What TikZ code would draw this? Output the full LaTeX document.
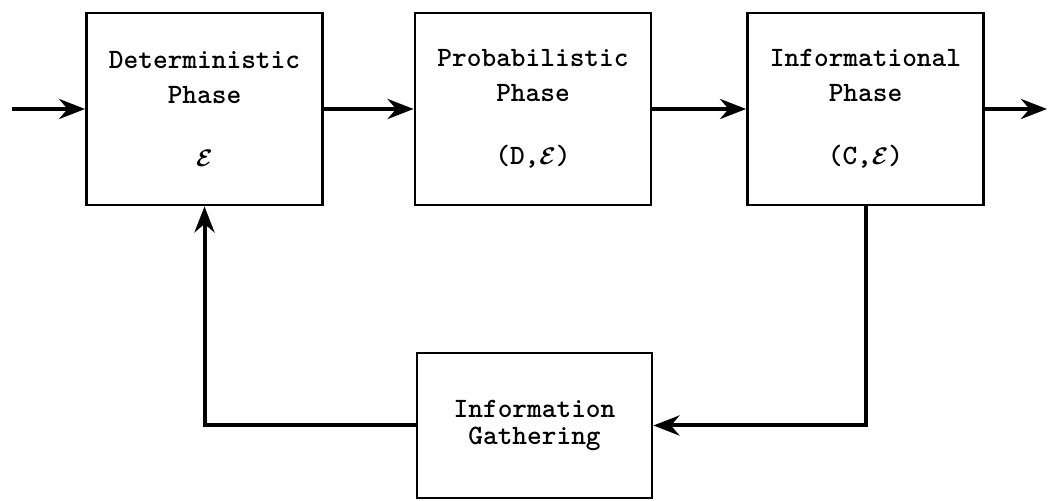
\documentclass[tikz,border=0pt]{standalone}
\usepackage{bm}
\usetikzlibrary{arrows.meta,positioning}

\newcommand{\evid}{\ensuremath{\bm{\mathcal{E}}}}

\begin{document}
\begin{tikzpicture}[x=0.5pt,y=-0.5pt,
  phase/.style={draw,line width=1.4pt,minimum width=118pt,minimum height=96pt,
    align=center,font=\ttfamily\bfseries\fontsize{14}{17.5}\selectfont},
  flow/.style={line width=2pt,-{Stealth[length=13pt,width=10pt]}}]
\useasboundingbox (0,0) rectangle (1050,501);
% the three phases
\node [phase] (det) at (204.5,109) {Deterministic\\Phase\\[14pt]{\large\evid}};
\node [phase] (prob) at (533,109) {Probabilistic\\Phase\\[14pt](D,{\large\evid})};
\node [phase] (info) at (865.5,109) {Informational\\Phase\\[14pt](C,{\large\evid})};
% feedback box
\node [phase,minimum width=117.5pt,minimum height=72.5pt,
  font=\ttfamily\bfseries\fontsize{14}{13.5}\selectfont] (gath) at (534.5,425.5)
  {Information\\Gathering};
\coordinate (in) at (12,109);
\coordinate (out) at (1047,109);
\draw [flow] (in) -- (det);
\draw [flow] (det) -- (prob);
\draw [flow] (prob) -- (info);
\draw [flow] (info) -- (out);
\draw [flow] (info.south) |- (gath.east);
\draw [flow] (gath.west) -| (det.south);
\end{tikzpicture}
\end{document}
